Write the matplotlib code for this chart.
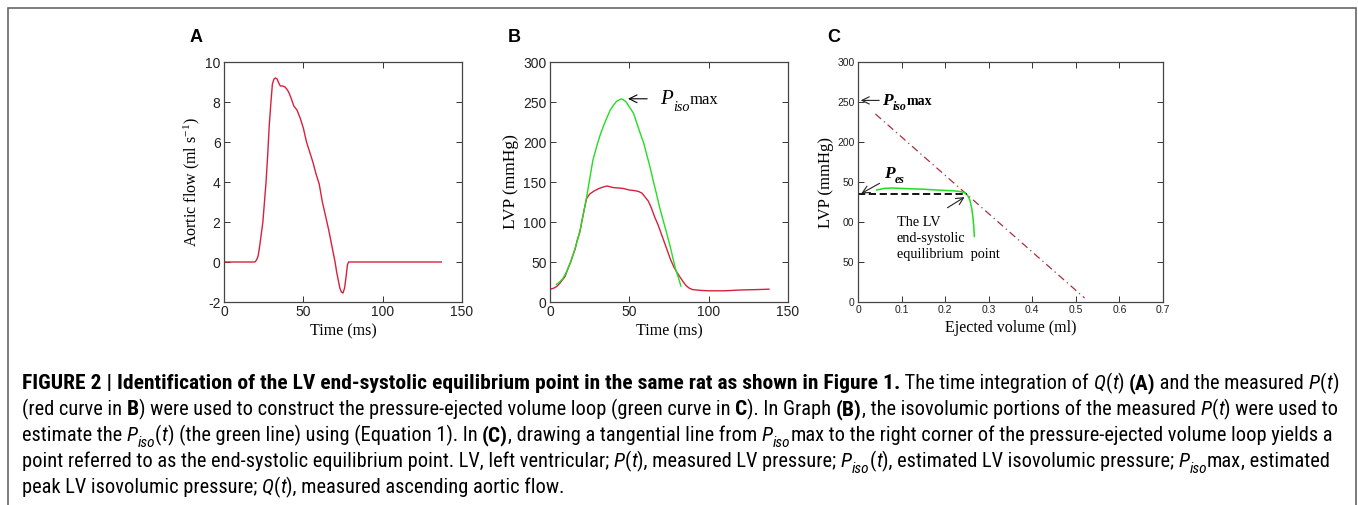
import matplotlib
matplotlib.use('Agg')
import matplotlib.pyplot as plt
from matplotlib import font_manager
from matplotlib.transforms import IdentityTransform
from matplotlib.patches import Rectangle

# Painel A: fluxo aórtico (ml/s) ao longo do tempo (ms)
tempo_a = [0, 19.5, 20.5, 21.5, 22.5, 23.5, 24.5, 25.5, 26.5, 27.5, 28.5, 29.5, 30.5,
           31.5, 32.5, 33.5, 34.5, 35.5, 37, 38.5, 40, 41, 42.5, 44, 46, 48, 50, 52,
           54, 56, 58, 60, 62, 64, 66, 68, 70, 71, 72, 73, 74, 75, 76, 77, 77.8,
           78.5, 137]
fluxo_a = [0, 0, 0.1, 0.3, 0.8, 1.4, 2.0, 3.0, 4.0, 5.3, 6.8, 7.9, 8.9,
           9.15, 9.2, 9.15, 8.95, 8.8, 8.8, 8.75, 8.6, 8.45, 8.15, 7.8, 7.6, 7.2, 6.7, 6.0,
           5.5, 5.0, 4.4, 3.9, 3.0, 2.3, 1.6, 0.8, 0.0, -0.5, -0.9, -1.3, -1.5, -1.55, -1.3,
           -0.7, -0.15, 0, 0]

# Painel B: pressão medida (vermelho) e isovolumétrica estimada (verde)
tempo_b = [0, 2, 4, 6, 8, 9.5, 11, 13, 15.8, 17, 18.9, 20, 21.5, 23, 25, 28, 31, 34,
           36, 40, 46, 50, 54, 56, 58, 60, 62, 64, 66, 68, 70, 72, 74, 76, 78, 80, 82,
           84, 86, 88, 90, 95, 100, 110, 120, 130, 138]
lvp_b = [16, 17, 19, 23, 28, 32, 40, 50, 66, 76, 88, 100, 115, 129, 135, 139, 142, 144,
         145, 143, 142, 140, 139, 138, 136, 131, 126, 117, 106, 97, 86, 75, 64, 53, 44,
         37, 31, 25, 20, 17, 15.5, 14.5, 14, 14, 15, 15.5, 16]
tempo_iso = [4, 6, 8, 10, 13, 16, 19, 21, 23, 25.3, 27, 29.5, 31.5, 33.7, 36, 38, 40,
             42, 44, 45, 46, 48, 50, 52.6, 55, 57, 59, 61, 63, 65, 67, 69, 71.6, 73,
             75.8, 77.7, 79, 81, 82.5]
piso_b = [22, 25, 29, 36, 50, 68, 90, 110, 130, 157, 177, 195, 208, 220, 231, 240, 246,
          251, 253, 254, 253, 250, 244, 236, 222, 210, 199, 184, 169, 152, 136, 119,
          100, 90, 69, 53, 42, 30, 20]

# Painel C: laço pressão x volume ejetado
vol_c = [0.043, 0.06, 0.08, 0.10, 0.12, 0.15, 0.18, 0.20, 0.22, 0.235, 0.245, 0.252,
         0.257, 0.261, 0.264, 0.266, 0.267]
lvp_c = [140, 142, 142.5, 142, 141.5, 141, 140, 139.5, 139, 138, 136.5, 133, 127, 117,
         105, 92, 82]
vol_reta = [0.04, 0.52]
p_reta = [235, 5]
p_isomax = 252
p_es = 135
vol_es = 0.25
t_pico = 47.4

W, H = 1358, 505
plt.rcParams['axes.unicode_minus'] = False
plt.rcParams['mathtext.fontset'] = 'custom'
plt.rcParams['mathtext.rm'] = 'Liberation Serif'
plt.rcParams['mathtext.it'] = 'Liberation Serif:italic'
fig = plt.figure(figsize=(W / 100, H / 100), dpi=100)
r = fig.canvas.get_renderer()

# procura uma fonte estreita para a legenda
lista = font_manager.fontManager.ttflist
nomes = {f.name for f in lista}
fonte_leg = dict(family='Liberation Sans')
for cand in ['Liberation Sans Narrow', 'Roboto Condensed', 'Open Sans Condensed',
             'Noto Sans Condensed', 'DejaVu Sans Condensed']:
    if cand in nomes:
        fonte_leg = dict(family=cand)
        break
else:
    if any(f.name == 'DejaVu Sans' and str(f.stretch) in ('condensed', 'semi-condensed')
           for f in lista):
        fonte_leg = dict(family='DejaVu Sans', fontstretch='condensed')

serif = 'Liberation Serif'
sans = 'Liberation Sans'
vermelho = '#d8203c'
verde = '#22dd22'

# moldura cinza
fig.patches.append(Rectangle((7.5 / W, -0.1), 1348 / W, 1 - 8 / H + 0.1, fill=False,
                             edgecolor='#666666', lw=1.2, transform=fig.transFigure))


def eixo(x0, x1):
    ax = fig.add_axes([x0 / W, 1 - 302 / H, (x1 - x0) / W, 240 / H])
    ax.tick_params(direction='in', top=True, right=True, length=4, width=0.7, pad=2.5,
                   colors='#333333', labelcolor='#222222')
    for s in ax.spines.values():
        s.set_color('#444444')
        s.set_linewidth(0.9)
    return ax


def largura(txt, **kw):
    t = fig.text(0, 0, txt + '|', **kw)
    w1 = t.get_window_extent(r).width
    t.remove()
    t = fig.text(0, 0, '|', **kw)
    w2 = t.get_window_extent(r).width
    t.remove()
    return w1 - w2


def estilo(tam, fonte, sty, sub, fator_b=1.0):
    kw = dict(fontsize=tam, **fonte)
    if 'b' in sty:
        kw['fontweight'] = 'bold'
        kw['fontsize'] = tam * fator_b
    if 'i' in sty:
        kw['fontstyle'] = 'italic'
    if 's' in sty:
        kw['fontsize'] = tam * sub
    if 'm' in sty:
        kw['fontsize'] = tam * 0.8
    return kw


def escreve(x, y, pedacos, tam, fonte, sub=0.72, fator_b=1.0):
    # escreve pedaços com estilos diferentes um após o outro (pixels)
    for txt, sty in pedacos:
        kw = estilo(tam, fonte, sty, sub, fator_b)
        dy = -tam * 0.3 * 100 / 72 if 's' in sty else 0
        fig.text(x, y + dy, txt, transform=IdentityTransform(), va='baseline',
                 ha='left', **kw)
        x += largura(txt, **kw)
    return x


# ----- A -----
ax_a = eixo(224, 462)
ax_a.plot(tempo_a, fluxo_a, color=vermelho, lw=1)
ax_a.set_xlim(0, 150)
ax_a.set_ylim(-2, 10)
ax_a.set_xticks([0, 50, 100, 150])
ax_a.set_yticks(range(-2, 11, 2))
ax_a.tick_params(labelsize=10)
for lab in ax_a.get_xticklabels() + ax_a.get_yticklabels():
    lab.set_family(sans)
ax_a.set_xlabel('Time (ms)', family=serif, fontsize=11.5, labelpad=3)
ax_a.set_ylabel('Aortic flow (ml s$^{\\mathregular{-1}}$)', family=serif, fontsize=11.5,
                labelpad=2)

# ----- B -----
ax_b = eixo(550, 788)
ax_b.plot(tempo_b, lvp_b, color=vermelho, lw=1)
ax_b.plot(tempo_iso, piso_b, color=verde, lw=1)
ax_b.set_xlim(0, 150)
ax_b.set_ylim(0, 300)
ax_b.set_xticks([0, 50, 100, 150])
ax_b.set_yticks(range(0, 301, 50))
ax_b.tick_params(labelsize=10)
for lab in ax_b.get_xticklabels() + ax_b.get_yticklabels():
    lab.set_family(sans)
ax_b.set_xlabel('Time (ms)', family=serif, fontsize=11.5, labelpad=3)
ax_b.set_ylabel('LVP (mmHg)', family=serif, fontsize=12.5, labelpad=3)
ax_b.annotate('', xy=(t_pico, p_isomax + 2), xytext=(63, p_isomax + 2),
              arrowprops=dict(arrowstyle='->', color='black', lw=0.8, mutation_scale=14))

# ----- C -----
ax_c = eixo(858, 1163)
ax_c.plot(vol_reta, p_reta, color='#a8303e', lw=0.9, ls=(0, (6, 3, 1, 3)))
ax_c.plot(vol_c, lvp_c, color=verde, lw=1.1)
ax_c.plot([0, vol_es], [p_es, p_es], color='black', lw=1.3, ls=(0, (4, 2)))
ax_c.set_xlim(0, 0.7)
ax_c.set_ylim(0, 300)
ax_c.set_xticks([0, 0.1, 0.2, 0.3, 0.4, 0.5, 0.6, 0.7])
ax_c.set_xticklabels(['0', '0.1', '0.2', '0.3', '0.4', '0.5', '0.6', '0.7'])
ax_c.set_yticks(range(0, 301, 50))
ax_c.set_yticklabels(['0', '50', '00', '50', '200', '250', '300'])
ax_c.tick_params(labelsize=7.5)
for lab in ax_c.get_xticklabels() + ax_c.get_yticklabels():
    lab.set_family(sans)
ax_c.set_xlabel('Ejected volume (ml)', family=serif, fontsize=11.5, labelpad=3)
ax_c.set_ylabel('LVP (mmHg)', family=serif, fontsize=12, labelpad=2)
seta = dict(arrowstyle='->', color='#222222', lw=0.8, mutation_scale=13)
ax_c.annotate('', xy=(0.0, p_isomax), xytext=(0.055, p_isomax), arrowprops=seta)
ax_c.annotate('', xy=(0.002, p_es - 1), xytext=(0.055, 150), arrowprops=seta)
ax_c.annotate('', xy=(vol_es, p_es - 2), xytext=(0.2, 116), arrowprops=seta)
ax_c.text(0.089, 107, 'The LV\nend-systolic\nequilibrium  point', family=serif,
          fontsize=10.3, va='top', ha='left', linespacing=1.3)

# rótulos com subscrito
x, y = ax_b.transData.transform((69.5, p_isomax - 5))
escreve(x, y, [('P', 'i'), ('iso', 'is'), ('max', 'm')], 15, dict(family=serif), sub=0.68)
x, y = ax_c.transData.transform((0.056, p_isomax - 6))
escreve(x, y, [('P', 'bi'), ('iso', 'bis'), ('max', 'bm')], 12.5, dict(family=serif), sub=0.68)
x, y = ax_c.transData.transform((0.06, 155))
escreve(x, y, [('P', 'bi'), ('es', 'bis')], 12.5, dict(family=serif), sub=0.68)

# letras dos painéis
for letra, xl in [('A', 190), ('B', 508), ('C', 827)]:
    fig.text(xl, H - 42, letra, transform=IdentityTransform(), family=sans,
             fontweight='bold', fontsize=13)

# legenda da figura
linhas = [
    [('FIGURE 2 | Identification of the LV end-systolic equilibrium point in the same rat as shown in Figure 1.', 'b'),
     (' The time integration of ', ''), ('Q', 'i'), ('(', ''), ('t', 'i'), (') ', ''), ('(A)', 'b'),
     (' and the measured ', ''), ('P', 'i'), ('(', ''), ('t', 'i'), (')', '')],
    [('(red curve in ', ''), ('B', 'b'), (') were used to construct the pressure-ejected volume loop (green curve in ', ''),
     ('C', 'b'), ('). In Graph ', ''), ('(B)', 'b'), (', the isovolumic portions of the measured ', ''),
     ('P', 'i'), ('(', ''), ('t', 'i'), (') were used to', '')],
    [('estimate the ', ''), ('P', 'i'), ('iso', 'is'), ('(', ''), ('t', 'i'), (') (the green line) using (Equation 1). In ', ''),
     ('(C)', 'b'), (', drawing a tangential line from ', ''), ('P', 'i'), ('iso', 'is'),
     ('max', ''), (' to the right corner of the pressure-ejected volume loop yields a', '')],
    [('point referred to as the end-systolic equilibrium point. LV, left ventricular; ', ''), ('P', 'i'), ('(', ''),
     ('t', 'i'), ('), measured LV pressure; ', ''), ('P', 'i'), ('iso', 'is'), ('(', ''), ('t', 'i'),
     ('), estimated LV isovolumic pressure; ', ''), ('P', 'i'), ('iso', 'is'), ('max', ''),
     (', estimated', '')],
    [('peak LV isovolumic pressure; ', ''), ('Q', 'i'), ('(', ''), ('t', 'i'),
     ('), measured ascending aortic flow.', '')],
]

# tamanho da fonte: a segunda linha (texto normal) ocupa a largura do original
tam0 = 10
w0 = sum(largura(t, **estilo(tam0, fonte_leg, s, 0.75)) for t, s in linhas[1])
tam = tam0 * 1305 / w0
for i, ln in enumerate(linhas):
    escreve(22, H - (389 + 26 * i), ln, tam, fonte_leg, sub=0.75, fator_b=1.05)

fig.savefig('out.png', dpi=100)
